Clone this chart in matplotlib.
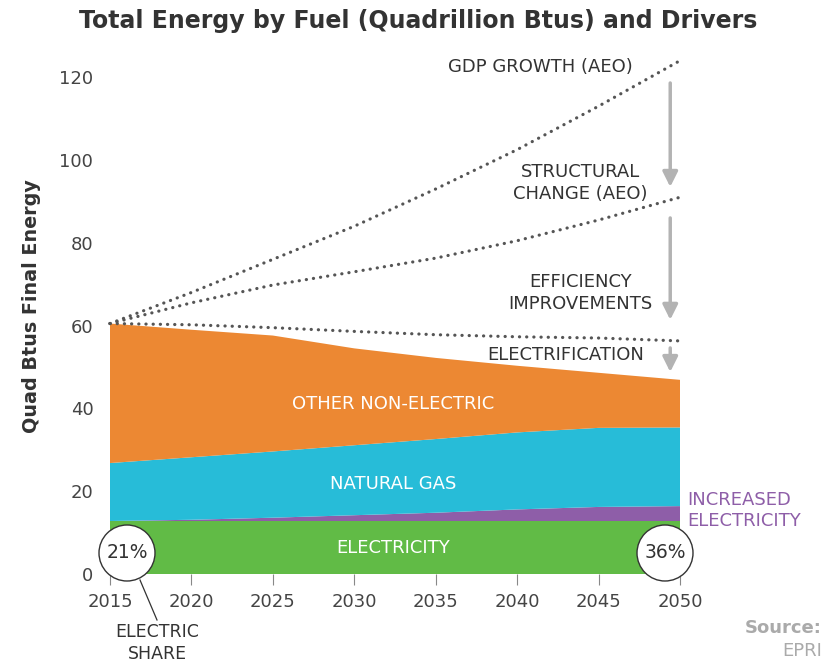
import numpy as np
import matplotlib.pyplot as plt
from matplotlib.patches import Circle

# ==========================
# Data
# ==========================
years = [2015, 2020, 2025, 2030, 2035, 2040, 2045, 2050]

electricity = [12.8, 12.8, 12.8, 12.8, 12.8, 12.8, 12.8, 12.8]
increased_elec = [0.0, 0.3, 0.8, 1.4, 2.0, 2.8, 3.4, 3.6]
natural_gas = [14.0, 15.1, 16.0, 16.9, 17.8, 18.6, 19.1, 19.0]
other_non_elec = [33.7, 30.8, 28.0, 23.4, 19.6, 16.1, 13.3, 11.5]

gdp_growth = [60.5, 68.0, 76.0, 84.0, 93.0, 102.5, 113.0, 124.0]
structural = [60.5, 65.5, 69.8, 73.0, 76.3, 80.5, 85.5, 91.0]
efficiency = [60.5, 60.2, 59.5, 58.6, 57.8, 57.3, 57.0, 56.3]

share_start = "21%"
share_end = "36%"

# ==========================
# Styles
# ==========================
c_green = "#61bb46"
c_purple = "#8e5ea8"
c_cyan = "#27bcd8"
c_orange = "#ec8833"
c_dots = "#555555"
c_arrow = "#b3b3b3"
c_text = "#333333"

plt.rcParams['font.family'] = ['DejaVu Sans']

fig = plt.figure(figsize=(8.37, 6.65), dpi=100)
ax = fig.add_axes([110/837, (665-574)/665, 570/837, 125*4.14/665])

ax.stackplot(years, electricity, increased_elec, natural_gas, other_non_elec,
             colors=[c_green, c_purple, c_cyan, c_orange], linewidth=0)

for series in (gdp_growth, structural, efficiency):
    ax.plot(years, series, linestyle=(0, (0.05, 2.2)), color=c_dots, lw=2.3,
            dash_capstyle='round', clip_on=False)

ax.set_xlim(2015, 2050)
ax.set_ylim(0, 125)
ax.set_xticks(years)
ax.set_yticks([0, 20, 40, 60, 80, 100, 120])
ax.tick_params(axis='x', length=8, width=0.8, color='#888888', pad=6,
               labelsize=13, labelcolor='#444444')
ax.tick_params(axis='y', length=0, pad=12, labelsize=13, labelcolor='#444444')
for sp in ax.spines.values():
    sp.set_visible(False)

# ==========================
# Labels
# ==========================
fig.text(0.5, 0.968, "Total Energy by Fuel (Quadrillion Btus) and Drivers",
         ha='center', va='center', fontsize=17, fontweight='bold', color=c_text)
fig.text(32/837, 1 - 306/665, "Quad Btus Final Energy", rotation=90,
         ha='center', va='center', fontsize=13.8, fontweight='bold', color=c_text)

lab = dict(fontsize=13, color=c_text, ha='center', va='center')
ax.text(2041.4, 122.5, "GDP GROWTH (AEO)", **lab)
ax.text(2043.9, 94.5, "STRUCTURAL\nCHANGE (AEO)", linespacing=1.3, **lab)
ax.text(2043.9, 67.8, "EFFICIENCY\nIMPROVEMENTS", linespacing=1.3, **lab)
ax.text(2043.0, 53.0, "ELECTRIFICATION", **lab)

white = dict(fontsize=13, color='white', ha='center', va='center')
ax.text(2032.4, 41.0, "OTHER NON-ELECTRIC", **white)
ax.text(2032.4, 21.8, "NATURAL GAS", **white)
ax.text(2032.4, 6.2, "ELECTRICITY", **white)

ax.text(2050.45, 15.3, "INCREASED\nELECTRICITY", fontsize=13, color=c_purple,
        ha='left', va='center', linespacing=1.2, clip_on=False)

# arrows between driver lines
for y0, y1 in [(118.6, 93.5), (86.0, 61.4), (54.6, 48.8)]:
    ax.annotate("", xy=(2049.4, y1), xytext=(2049.4, y0),
                arrowprops=dict(arrowstyle="-|>,head_length=0.9,head_width=0.45",
                                color=c_arrow, lw=2.5, shrinkA=0, shrinkB=0),
                annotation_clip=False)

# electric share circles (drawn in pixel space so they stay round)
for (px, py), txt in [((127, 553), share_start), ((665, 553), share_end)]:
    circ = Circle((px, 665 - py), 28, transform=None, facecolor='white',
                  edgecolor='#333333', lw=1.0, zorder=5, clip_on=False)
    fig.patches.append(circ)
    fig.text(px/837, 1 - py/665, txt, ha='center', va='center',
             fontsize=13.5, color=c_text, zorder=6)

fig.add_artist(plt.Line2D([140/837, 157/837], [1 - 580/665, 1 - 620/665],
                          color='#333333', lw=0.9))
fig.text(157/837, 1 - 643/665, "ELECTRIC\nSHARE", ha='center', va='center',
         fontsize=12.5, color=c_text, linespacing=1.3)

fig.text(822/837, 1 - 628/665, "Source:", ha='right', va='center',
         fontsize=13, fontweight='bold', color='#aaaaaa')
fig.text(822/837, 1 - 651/665, "EPRI", ha='right', va='center',
         fontsize=13, color='#aaaaaa')

fig.savefig("out.png", dpi=100)
